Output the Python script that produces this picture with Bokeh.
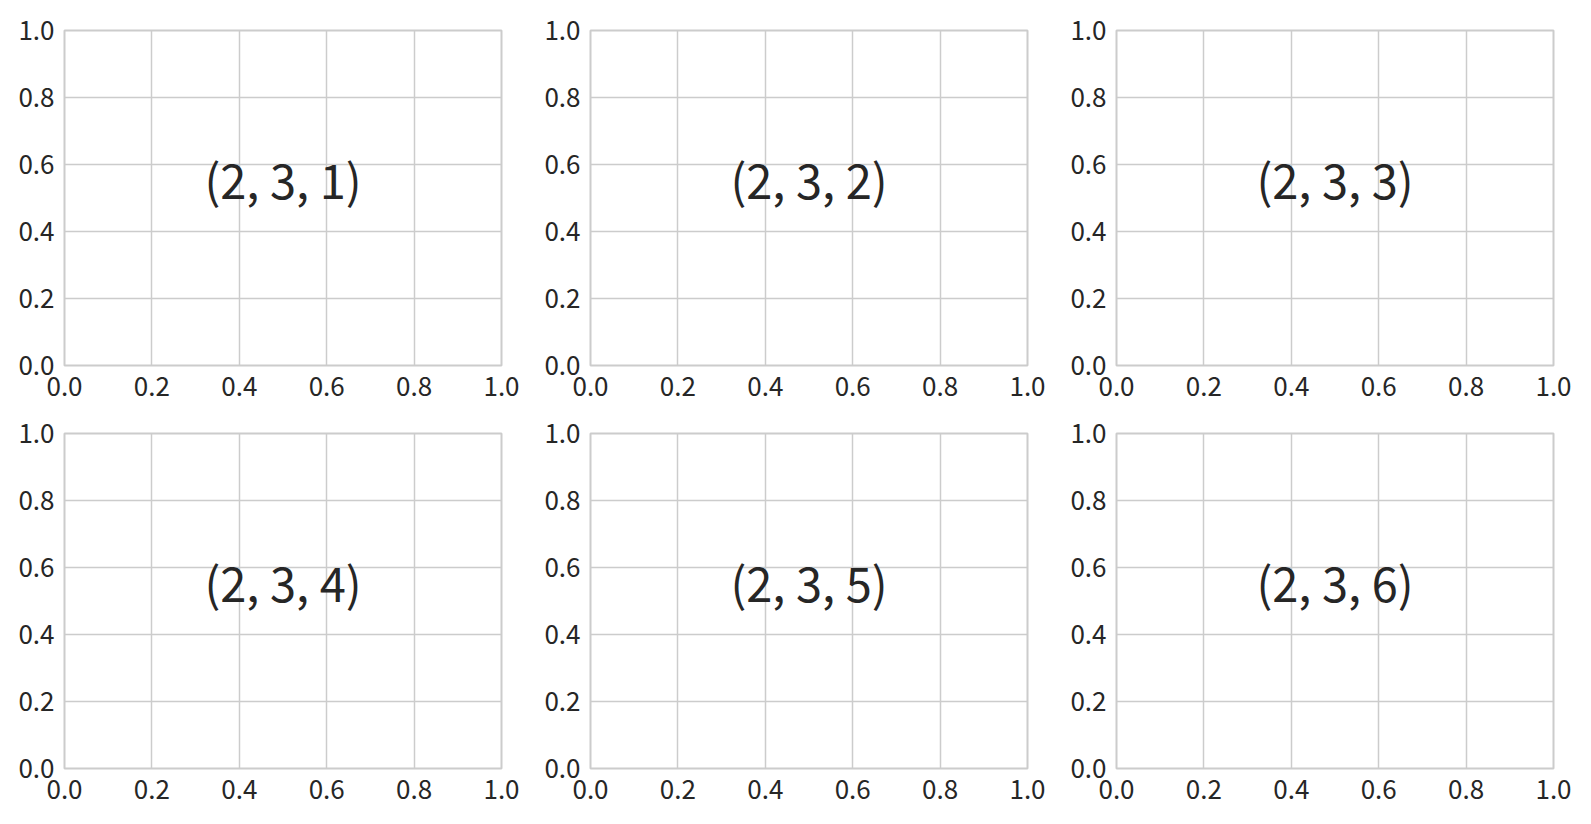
from bokeh.plotting import figure
from bokeh.layouts import gridplot
from bokeh.models import Range1d, FixedTicker
from bokeh.core.properties import value
from bokeh.embed import file_html
from bokeh.resources import INLINE

# ---- data ----
panel_labels = ["(2, 3, 1)", "(2, 3, 2)", "(2, 3, 3)",
                "(2, 3, 4)", "(2, 3, 5)", "(2, 3, 6)"]
label_x = [0.5]
label_y = [0.5]
tick_values = [0.0, 0.2, 0.4, 0.6, 0.8, 1.0]
tick_labels = ["0.0", "0.2", "0.4", "0.6", "0.8", "1.0"]

FONT = "Noto Sans CJK JP"
GRID = "#cccccc"
TXT = "#262626"

overrides = {v: l for v, l in zip(tick_values, tick_labels)}

figs = []
for i, lab in enumerate(panel_labels):
    r, c = divmod(i, 3)
    left = 64 if c == 0 else 57
    top = 30 if r == 0 else 22
    p = figure(width=left + 437 + 32, height=top + 335 + 46,
               output_backend="svg", toolbar_location=None,
               x_range=Range1d(0, 1), y_range=Range1d(0, 1),
               min_border_left=left, min_border_right=32,
               min_border_top=top, min_border_bottom=46,
               background_fill_color="white", border_fill_color="white")
    p.outline_line_color = GRID
    p.outline_line_width = 2
    for ax in (p.xaxis[0], p.yaxis[0]):
        ax.ticker = FixedTicker(ticks=tick_values)
        ax.major_label_overrides = overrides
        ax.axis_line_color = None
        ax.major_tick_line_color = None
        ax.minor_tick_line_color = None
        ax.major_tick_out = 0
        ax.major_tick_in = 0
        ax.minor_tick_out = 0
        ax.major_label_text_font = FONT
        ax.major_label_text_font_size = "26px"
        ax.major_label_text_color = TXT
    p.xaxis[0].major_label_standoff = 11
    p.yaxis[0].major_label_standoff = 10
    for g in (p.xgrid[0], p.ygrid[0]):
        g.ticker = FixedTicker(ticks=tick_values)
        g.grid_line_color = GRID
        g.grid_line_width = 1.5
    p.text(x=label_x, y=label_y, text=[lab], text_align="center",
           text_baseline="alphabetic", y_offset=-20, text_font=value(FONT),
           text_font_size="47px", text_color=TXT)
    figs.append(p)

grid = gridplot([figs[0:3], figs[3:6]], toolbar_location=None)
open("out.html", "w").write(file_html(grid, INLINE))
